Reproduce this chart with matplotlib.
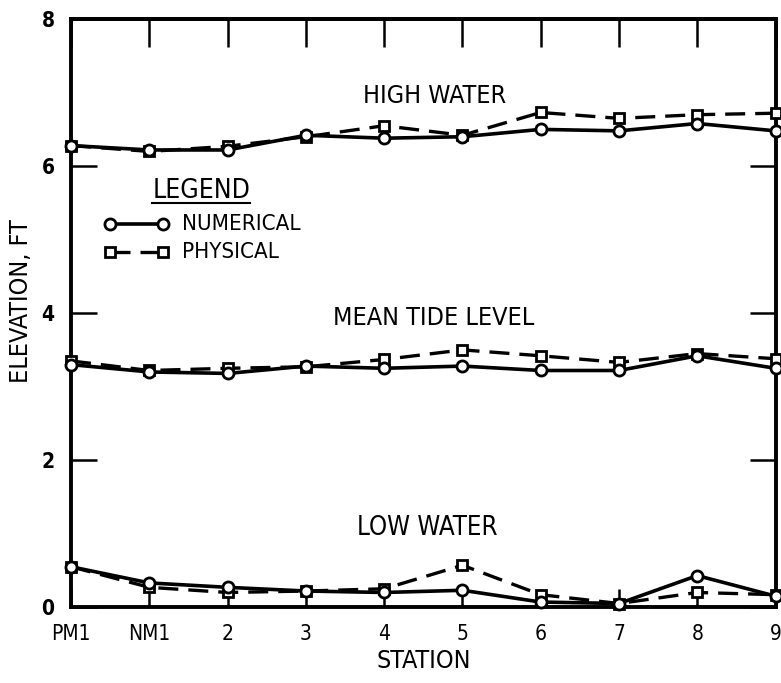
import matplotlib
matplotlib.use("Agg")
import matplotlib.pyplot as plt

stations = ["PM1", "NM1", "2", "3", "4", "5", "6", "7", "8", "9"]
high_num = [6.28, 6.22, 6.22, 6.42, 6.38, 6.40, 6.50, 6.48, 6.58, 6.48]
high_phy = [6.28, 6.20, 6.27, 6.40, 6.55, 6.42, 6.73, 6.65, 6.70, 6.72]
mtl_num = [3.30, 3.20, 3.18, 3.28, 3.25, 3.28, 3.22, 3.22, 3.42, 3.25]
mtl_phy = [3.35, 3.22, 3.25, 3.27, 3.37, 3.50, 3.42, 3.33, 3.45, 3.38]
low_num = [0.55, 0.33, 0.27, 0.22, 0.20, 0.23, 0.07, 0.05, 0.43, 0.15]
low_phy = [0.55, 0.27, 0.20, 0.22, 0.25, 0.57, 0.17, 0.05, 0.20, 0.17]
yticks = [0, 2, 4, 6, 8]

plt.rcParams["font.family"] = ["DejaVu Sans"]
plt.rcParams["font.stretch"] = "condensed"

fig = plt.figure(figsize=(7.81, 6.83), dpi=100)
ax = fig.add_axes([0.091, 0.111, 0.902, 0.861])
x = list(range(len(stations)))

num_kw = dict(color="black", lw=2.6, marker="o", ms=8, mfc="white", mew=2)
phy_kw = dict(color="black", lw=2.4, ls=(0, (6, 3)), marker="s", ms=7.5, mfc="white", mew=2)
for num, phy in [(high_num, high_phy), (mtl_num, mtl_phy), (low_num, low_phy)]:
    ax.plot(x, phy, **phy_kw, clip_on=False, zorder=3)
    ax.plot(x, num, **num_kw, clip_on=False, zorder=4)

ax.set_xlim(0, 9)
ax.set_ylim(0, 8)
ax.set_xticks(x)
ax.set_xticklabels(stations)
ax.set_yticks(yticks)
ax.set_yticklabels([str(v) for v in yticks], fontweight="bold", fontsize=15)
ax.tick_params(axis="both", direction="in", width=1.8, labelsize=15, right=True)
ax.tick_params(axis="x", length=13, pad=12)
ax.tick_params(axis="y", length=19, pad=12)
top = ax.secondary_xaxis("top")
top.set_xticks(x)
top.tick_params(direction="in", length=20, width=1.8, labeltop=False)
top.spines["top"].set_linewidth(2.8)
for s in ax.spines.values():
    s.set_linewidth(2.8)

ax.set_xlabel("STATION", fontsize=18, labelpad=4)
ax.set_ylabel("ELEVATION, FT", fontsize=18)
ax.yaxis.set_label_coords(-0.054, 0.52)

ax.text(4.64, 6.96, "HIGH WATER", ha="center", va="center", fontsize=18)
ax.text(4.63, 3.94, "MEAN TIDE LEVEL", ha="center", va="center", fontsize=18)
ax.text(4.55, 1.08, "LOW WATER", ha="center", va="center", fontsize=18.5)

# legend
ax.text(1.04, 5.66, "LEGEND", ha="left", va="center", fontsize=19)
ax.plot([1.04, 2.28], [5.50, 5.50], color="black", lw=1.5)
ax.plot([0.50, 1.18], [5.21, 5.21], **num_kw)
ax.text(1.42, 5.21, "NUMERICAL", ha="left", va="center", fontsize=16)
ax.plot([0.50, 1.18], [4.83, 4.83], **phy_kw)
ax.text(1.42, 4.83, "PHYSICAL", ha="left", va="center", fontsize=16)

fig.savefig("out.png", dpi=100)
